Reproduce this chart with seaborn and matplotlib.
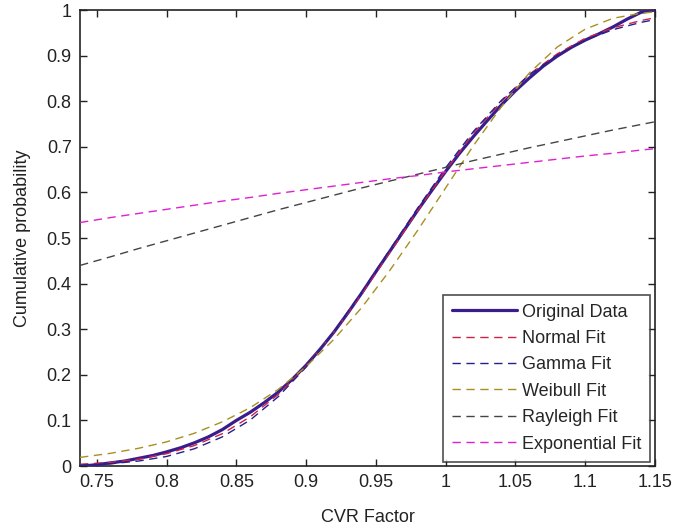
import matplotlib
matplotlib.use("Agg")
import matplotlib.pyplot as plt
import seaborn as sns
import pandas as pd

x_data = [0.74, 0.75, 0.76, 0.77, 0.78, 0.79, 0.80, 0.81, 0.82, 0.83, 0.84,
          0.85, 0.86, 0.87, 0.88, 0.89, 0.90, 0.91, 0.92, 0.93, 0.94, 0.95,
          0.96, 0.97, 0.98, 0.99, 1.00, 1.01, 1.02, 1.03, 1.04, 1.05, 1.06,
          1.07, 1.08, 1.09, 1.10, 1.11, 1.12, 1.13, 1.14, 1.15]
y_data = [0.000, 0.003, 0.007, 0.011, 0.017, 0.023, 0.031, 0.040, 0.051, 0.064, 0.080,
          0.100, 0.118, 0.139, 0.162, 0.190, 0.221, 0.256, 0.294, 0.336, 0.380, 0.426,
          0.471, 0.516, 0.561, 0.604, 0.646, 0.686, 0.723, 0.758, 0.792, 0.823, 0.851,
          0.877, 0.899, 0.918, 0.934, 0.948, 0.963, 0.980, 0.995, 1.000]

# fitted CDFs
x_fit = [0.738, 0.76, 0.78, 0.80, 0.82, 0.84, 0.86, 0.88, 0.90, 0.92, 0.94,
         0.96, 0.98, 1.00, 1.02, 1.04, 1.06, 1.08, 1.10, 1.12, 1.14, 1.15]
normal_fit = [0.004, 0.008, 0.015, 0.027, 0.045, 0.071, 0.108, 0.157, 0.219, 0.294, 0.378,
              0.468, 0.560, 0.648, 0.730, 0.800, 0.859, 0.904, 0.938, 0.961, 0.977, 0.983]
gamma_fit = [0.002, 0.005, 0.011, 0.021, 0.038, 0.064, 0.101, 0.152, 0.217, 0.295, 0.382,
             0.474, 0.566, 0.654, 0.734, 0.802, 0.858, 0.901, 0.934, 0.957, 0.973, 0.979]
weibull_fit = [0.019, 0.028, 0.039, 0.053, 0.072, 0.097, 0.128, 0.168, 0.218, 0.278, 0.348,
               0.429, 0.517, 0.610, 0.703, 0.788, 0.862, 0.919, 0.958, 0.982, 0.993, 0.996]
rayleigh_fit = [0.440, 0.459, 0.477, 0.494, 0.511, 0.528, 0.545, 0.562, 0.578, 0.594, 0.610,
                0.625, 0.640, 0.655, 0.670, 0.684, 0.698, 0.711, 0.724, 0.737, 0.749, 0.755]
expon_fit = [0.534, 0.545, 0.554, 0.563, 0.572, 0.581, 0.589, 0.598, 0.606, 0.614, 0.622,
             0.630, 0.637, 0.645, 0.652, 0.659, 0.666, 0.673, 0.680, 0.686, 0.693, 0.696]

x_ticks = [0.75, 0.8, 0.85, 0.9, 0.95, 1.0, 1.05, 1.1, 1.15]
x_tick_labels = ["0.75", "0.8", "0.85", "0.9", "0.95", "1", "1.05", "1.1", "1.15"]
y_ticks = [0, 0.1, 0.2, 0.3, 0.4, 0.5, 0.6, 0.7, 0.8, 0.9, 1.0]
y_tick_labels = ["0", "0.1", "0.2", "0.3", "0.4", "0.5", "0.6", "0.7", "0.8", "0.9", "1"]

sns.set_theme(style="ticks")
plt.rcParams["font.family"] = ["Liberation Sans", "DejaVu Sans"]

fig = plt.figure(figsize=(6.96, 5.29), dpi=100)
ax = fig.add_axes([0.115, 0.119, 0.826, 0.862])

fits = [
    ("Normal Fit", normal_fit, "#d0204a"),
    ("Gamma Fit", gamma_fit, "#22228a"),
    ("Weibull Fit", weibull_fit, "#a89020"),
    ("Rayleigh Fit", rayleigh_fit, "#444444"),
    ("Exponential Fit", expon_fit, "#e020d0"),
]

# original data first so it shows first in legend
df_orig = pd.DataFrame({"x": x_data, "y": y_data})
sns.lineplot(data=df_orig, x="x", y="y", ax=ax, color="#3a1d8c", linewidth=2.3,
             label="Original Data", zorder=3)

for name, vals, col in fits:
    df_fit = pd.DataFrame({"x": x_fit, "y": vals})
    sns.lineplot(data=df_fit, x="x", y="y", ax=ax, color=col, linewidth=1.0,
                 linestyle=(0, (6, 4)), label=name, zorder=4)

ax.set_xlim(0.738, 1.15)
ax.set_ylim(0, 1)
ax.set_xticks(x_ticks)
ax.set_xticklabels(x_tick_labels)
ax.set_yticks(y_ticks)
ax.set_yticklabels(y_tick_labels)
ax.tick_params(direction="in", length=5, width=1, labelsize=13, colors="#222222",
               top=True, right=True, pad=6)
for sp in ax.spines.values():
    sp.set_visible(True)
    sp.set_linewidth(1.2)
    sp.set_color("#222222")

ax.set_xlabel("CVR Factor", fontsize=13, color="#222222", labelpad=13)
ax.set_ylabel("Cumulative probability", fontsize=13, color="#222222", labelpad=11)

leg = ax.legend(loc="lower right", fontsize=13, frameon=True, fancybox=False,
                handlelength=3.6, handletextpad=0.3, labelspacing=0.52,
                borderpad=0.5, borderaxespad=0.25)
leg.get_frame().set_edgecolor("#222222")
leg.get_frame().set_linewidth(1.2)

fig.savefig("out.png", dpi=100)
